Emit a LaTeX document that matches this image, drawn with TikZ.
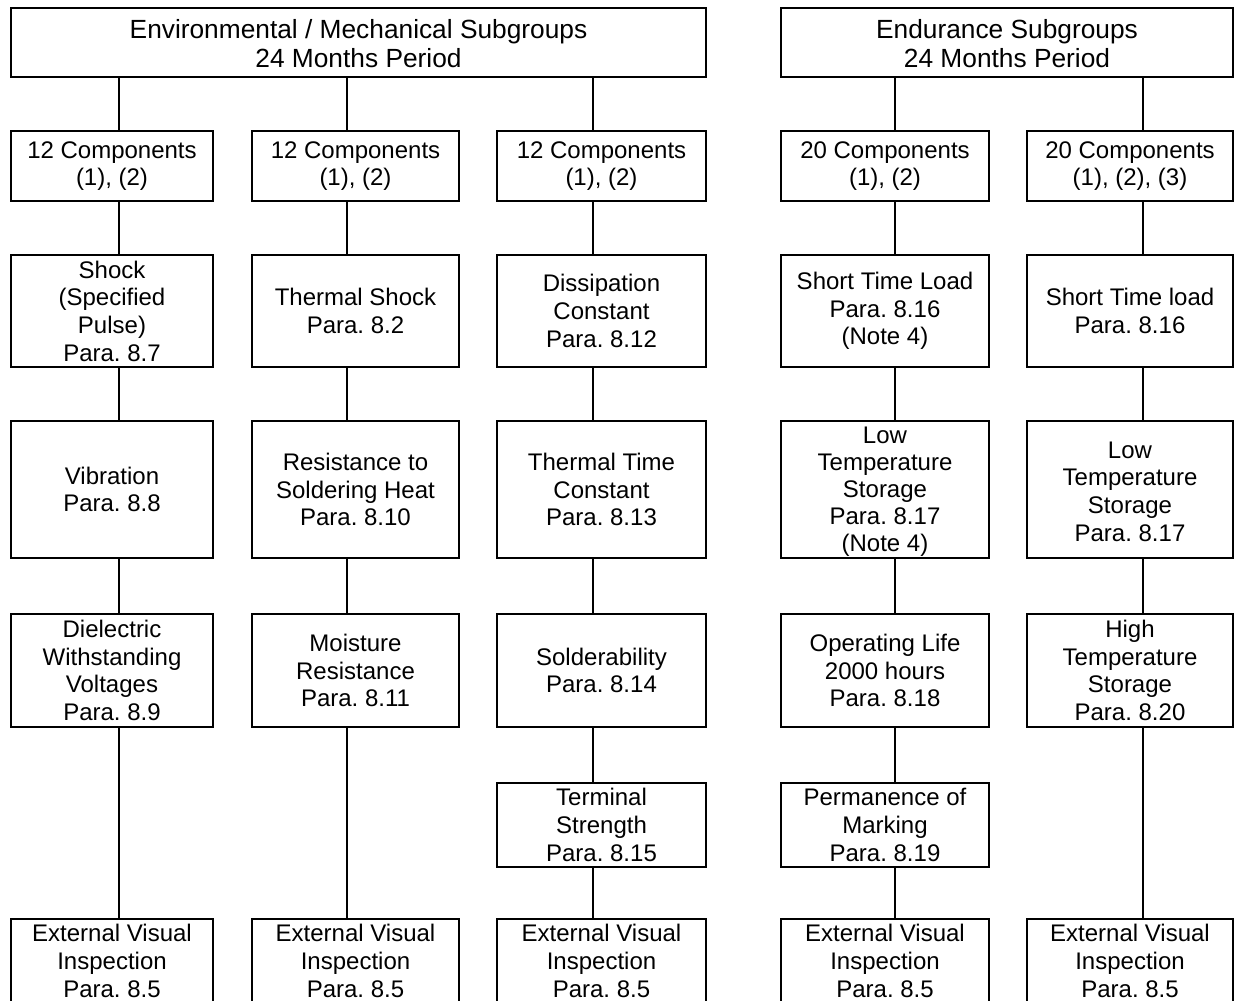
\documentclass[tikz,border=0pt]{standalone}
\usepackage{fontspec}
\setmainfont{Liberation Sans}
\frenchspacing
\begin{document}
\begin{tikzpicture}[x=1pt,y=-1pt,
  boxstyle/.style={draw=black,line width=2pt,inner sep=0pt},
  textstyle/.style={inner sep=0pt,align=center,
    font=\fontsize{24}{27.7}\selectfont},
  tighttext/.style={inner sep=0pt,align=center,
    font=\fontsize{24}{27}\selectfont},
  titlestyle/.style={inner sep=0pt,align=center,
    font=\fontsize{26.3}{29}\selectfont},
  linkstyle/.style={draw=black,line width=2pt}]
\useasboundingbox (0,0) rectangle (1237,1001);
% box macro: name, x1, y1, x2, y2, text, [text shift down]
\newcommand\mybox[7][0]{%
  \node[boxstyle,minimum width={#5-#3},minimum height={#6-#4}]
    (#2) at ({(#3+#5)/2},{(#4+#6)/2}) {};
  \node[textstyle] at ([yshift=-#1pt]#2.center) {#7};}
\newcommand\mytitle[6]{%
  \node[boxstyle,minimum width={#4-#2},minimum height={#5-#3}]
    (#1) at ({(#2+#4)/2},{(#3+#5)/2}) {};
  \node[titlestyle] at ([yshift=-1pt]#1.center) {#6};}
\coordinate (c1) at (119,0);
\coordinate (c2) at (347,0);
\coordinate (c3) at (593,0);
\coordinate (c4) at (895,0);
\coordinate (c5) at (1143,0);
% top boxes
\mytitle{topL}{11}{8}{706}{77}{Environmental / Mechanical Subgroups\\24 Months Period}
\mytitle{topR}{781}{8}{1233}{77}{Endurance Subgroups\\24 Months Period}
% row 2
\mybox{a2}{11}{131}{213}{201}{12 Components\\(1), (2)}
\mybox{b2}{252}{131}{459}{201}{12 Components\\(1), (2)}
\mybox{c2b}{497}{131}{706}{201}{12 Components\\(1), (2)}
\mybox{d2}{781}{131}{989}{201}{20 Components\\(1), (2)}
\mybox{e2}{1027}{131}{1233}{201}{20 Components\\(1), (2), (3)}
% row 3
\mybox{a3}{11}{255}{213}{367}{Shock\\(Specified\\Pulse)\\Para. 8.7}
\mybox{b3}{252}{255}{459}{367}{Thermal Shock\\Para. 8.2}
\mybox{c3b}{497}{255}{706}{367}{Dissipation\\Constant\\Para. 8.12}
\mybox{d3}{781}{255}{989}{367}{Short Time Load\\Para. 8.16\\(Note 4)}
\mybox{e3}{1027}{255}{1233}{367}{Short Time load\\Para. 8.16}
% row 4
\mybox{a4}{11}{421}{213}{558}{Vibration\\Para. 8.8}
\mybox{b4}{252}{421}{459}{558}{Resistance to\\Soldering Heat\\Para. 8.10}
\mybox{c4b}{497}{421}{706}{558}{Thermal Time\\Constant\\Para. 8.13}
\node[boxstyle,minimum width=208,minimum height=137] (d4) at (885,489.5) {};
\node[tighttext] at ([yshift=-2.5pt]d4.center) {Low\\Temperature\\Storage\\Para. 8.17\\(Note 4)};
\mybox[2]{e4}{1027}{421}{1233}{558}{Low\\Temperature\\Storage\\Para. 8.17}
% row 5
\mybox{a5}{11}{614}{213}{727}{Dielectric\\Withstanding\\Voltages\\Para. 8.9}
\mybox{b5}{252}{614}{459}{727}{Moisture\\Resistance\\Para. 8.11}
\mybox{c5b}{497}{614}{706}{727}{Solderability\\Para. 8.14}
\mybox{d5}{781}{614}{989}{727}{Operating Life\\2000 hours\\Para. 8.18}
\mybox{e5}{1027}{614}{1233}{727}{High\\Temperature\\Storage\\Para. 8.20}
% row 6
\mybox{c6b}{497}{783}{706}{867}{Terminal\\Strength\\Para. 8.15}
\mybox{d6}{781}{783}{989}{867}{Permanence of\\Marking\\Para. 8.19}
% row 7 (cut off at bottom)
\mybox{a7}{11}{919}{213}{1003}{External Visual\\Inspection\\Para. 8.5}
\mybox{b7}{252}{919}{459}{1003}{External Visual\\Inspection\\Para. 8.5}
\mybox{c7b}{497}{919}{706}{1003}{External Visual\\Inspection\\Para. 8.5}
\mybox{d7}{781}{919}{989}{1003}{External Visual\\Inspection\\Para. 8.5}
\mybox{e7}{1027}{919}{1233}{1003}{External Visual\\Inspection\\Para. 8.5}
% connectors
\draw[linkstyle] (topL.south -| c1) -- (a2.north -| c1);
\draw[linkstyle] (topL.south -| c2) -- (b2.north -| c2);
\draw[linkstyle] (topL.south -| c3) -- (c2b.north -| c3);
\draw[linkstyle] (topR.south -| c4) -- (d2.north -| c4);
\draw[linkstyle] (topR.south -| c5) -- (e2.north -| c5);
\draw[linkstyle] (a2.south -| c1) -- (a3.north -| c1);
\draw[linkstyle] (a3.south -| c1) -- (a4.north -| c1);
\draw[linkstyle] (a4.south -| c1) -- (a5.north -| c1);
\draw[linkstyle] (a5.south -| c1) -- (a7.north -| c1);
\draw[linkstyle] (b2.south -| c2) -- (b3.north -| c2);
\draw[linkstyle] (b3.south -| c2) -- (b4.north -| c2);
\draw[linkstyle] (b4.south -| c2) -- (b5.north -| c2);
\draw[linkstyle] (b5.south -| c2) -- (b7.north -| c2);
\draw[linkstyle] (c2b.south -| c3) -- (c3b.north -| c3);
\draw[linkstyle] (c3b.south -| c3) -- (c4b.north -| c3);
\draw[linkstyle] (c4b.south -| c3) -- (c5b.north -| c3);
\draw[linkstyle] (c5b.south -| c3) -- (c6b.north -| c3);
\draw[linkstyle] (c6b.south -| c3) -- (c7b.north -| c3);
\draw[linkstyle] (d2.south -| c4) -- (d3.north -| c4);
\draw[linkstyle] (d3.south -| c4) -- (d4.north -| c4);
\draw[linkstyle] (d4.south -| c4) -- (d5.north -| c4);
\draw[linkstyle] (d5.south -| c4) -- (d6.north -| c4);
\draw[linkstyle] (d6.south -| c4) -- (d7.north -| c4);
\draw[linkstyle] (e2.south -| c5) -- (e3.north -| c5);
\draw[linkstyle] (e3.south -| c5) -- (e4.north -| c5);
\draw[linkstyle] (e4.south -| c5) -- (e5.north -| c5);
\draw[linkstyle] (e5.south -| c5) -- (e7.north -| c5);
\end{tikzpicture}
\end{document}
